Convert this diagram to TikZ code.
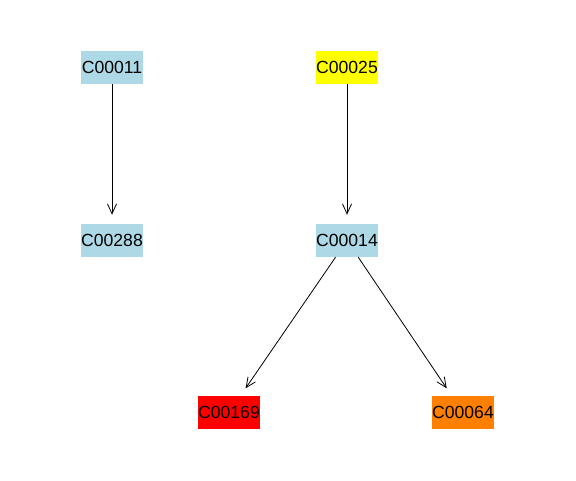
\documentclass[tikz,border=0pt]{standalone}
\usepackage{fontspec}
\setmainfont{Liberation Sans}
\usetikzlibrary{arrows.meta}
\definecolor{nodeblue}{RGB}{173,216,230}
\definecolor{nodeyellow}{RGB}{255,255,0}
\definecolor{nodered}{RGB}{255,0,0}
\definecolor{nodeorange}{RGB}{255,128,0}
% Boxes keep a fixed size; the label may run slightly past the edges
\newcommand{\cpdlabel}[1]{\makebox[0pt]{#1}}
\tikzset{
  cpd/.style={rectangle, minimum width=62pt, minimum height=33pt, inner sep=0pt,
    font=\fontsize{17.6}{17.6}\selectfont, text=black},
  link/.style={draw=black, line width=0.8pt,
    -{Straight Barb[length=10pt,width=9pt,line width=0.8pt]}, shorten >=9pt}
}
\begin{document}
\begin{tikzpicture}[x=1pt,y=-1pt]
  \useasboundingbox[fill=white] (0,0) rectangle (576,480);
  \node[cpd, fill=nodeblue]   (c11)  at (112,67.5)  {\cpdlabel{C00011}};
  \node[cpd, fill=nodeblue]   (c288) at (112,240.5) {\cpdlabel{C00288}};
  \node[cpd, fill=nodeyellow] (c25)  at (347,67.5)  {\cpdlabel{C00025}};
  \node[cpd, fill=nodeblue]   (c14)  at (347,240.5) {\cpdlabel{C00014}};
  \node[cpd, fill=nodered]    (c169) at (229,412.5) {\cpdlabel{C00169}};
  \node[cpd, fill=nodeorange] (c64)  at (463,412.5) {\cpdlabel{C00064}};
  \draw[link] (c11) -- (c288);
  \draw[link] (c25) -- (c14);
  \draw[link] (c14) -- (c169);
  \draw[link] (c14) -- (c64);
\end{tikzpicture}
\end{document}
